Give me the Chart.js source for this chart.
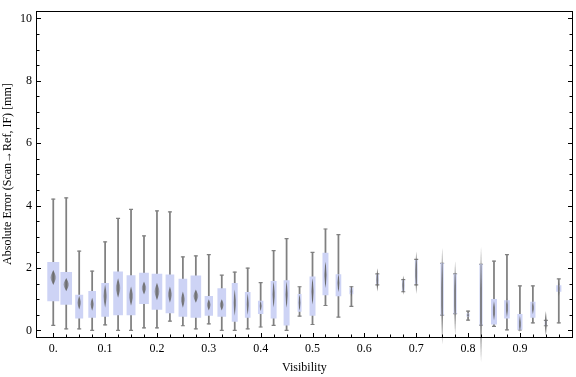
<!DOCTYPE html>
<html><head><meta charset="utf-8">
<script src="https://cdn.jsdelivr.net/npm/chart.js@4/dist/chart.umd.min.js"></script>
<style>html,body{margin:0;padding:0;background:#fff}</style>
</head><body>
<canvas id="c" width="576" height="377"></canvas>
<script>
// ---- data ----
const visibility  = [0,0.025,0.05,0.075,0.1,0.125,0.15,0.175,0.2,0.225,0.25,0.275,0.3,0.325,0.35,0.375,0.4,0.425,0.45,0.475,0.5,0.525,0.55,0.575,0.6,0.625,0.65,0.675,0.7,0.725,0.75,0.775,0.8,0.825,0.85,0.875,0.9,0.925,0.95,0.975];
const whiskerLow  = [0.16,0.05,0.05,0.00,0.18,0.00,0.00,0.08,0.08,0.30,0.15,0.05,0.21,0.00,0.00,0.05,0.11,0.16,0.00,0.46,0.19,0.80,0.43,0.77,null,1.46,null,1.24,1.46,null,0.49,0.54,0.33,0.17,0.13,0.02,0.02,0.24,0.15,0.24];
const quartile1   = [0.95,0.83,0.39,0.42,0.45,0.50,0.50,0.86,0.67,0.56,0.45,0.42,0.48,0.45,0.29,0.42,0.54,0.39,0.17,0.61,0.48,1.14,1.11,1.17,null,1.50,null,1.28,1.50,null,0.49,0.54,0.45,0.17,0.20,0.39,0.03,0.42,0.17,1.25];
const median      = [1.70,1.47,0.89,0.84,1.10,1.36,1.10,1.36,1.25,1.15,0.99,1.10,0.82,0.82,0.89,0.84,0.78,1.15,1.15,0.89,1.25,1.78,1.52,1.25,null,1.62,null,1.45,1.85,null,1.09,1.04,0.49,0.83,0.63,0.73,0.21,0.73,0.23,1.34];
const quartile3   = [2.18,1.86,1.13,1.25,1.51,1.88,1.76,1.84,1.81,1.78,1.65,1.75,1.09,1.34,1.51,1.22,0.94,1.57,1.60,1.16,1.72,2.48,1.79,1.36,null,1.78,null,1.60,2.25,null,2.15,1.81,0.53,2.12,1.00,0.96,0.52,0.91,0.30,1.44];
const whiskerHigh = [4.21,4.25,2.54,1.90,2.84,3.59,3.88,3.03,3.83,3.80,2.36,2.39,2.43,1.77,1.87,2.00,1.53,2.56,2.94,1.40,2.50,3.25,3.07,1.40,null,1.81,null,1.63,2.28,null,2.15,1.81,0.62,2.12,2.22,2.43,1.43,1.43,0.32,1.65];
const notchHalf   = [0.24,0.21,0.22,0.21,0.37,0.31,0.31,0.21,0.28,0.26,0.26,0.21,0.18,0.18,0.42,0.34,0.16,0.42,0.42,0.26,0.42,0.42,0.29,0.18,null,0.37,null,0.31,0.68,null,1.55,1.18,0.06,1.85,0.31,0.31,0.26,0.21,0.39,0.25];
const sampleWeight= [1.00,0.97,0.65,0.62,0.62,0.80,0.73,0.80,0.88,0.71,0.71,0.88,0.68,0.71,0.47,0.44,0.42,0.47,0.47,0.29,0.47,0.47,0.44,0.29,null,0.18,null,0.18,0.18,null,0.22,0.22,0.22,0.22,0.47,0.44,0.40,0.40,0.13,0.40];
const xTickValues = [0,0.1,0.2,0.3,0.4,0.5,0.6,0.7,0.8,0.9];
const xTickLabels = ["0.","0.1","0.2","0.3","0.4","0.5","0.6","0.7","0.8","0.9"];
const yTickValues = [0,2,4,6,8,10];
const yTickLabels = ["0","2","4","6","8","10"];

// ---- styling ----
const MAXW = 11.3;
const BOX = 'rgb(205,211,245)';
const WHISK = 'rgb(128,128,128)';
const FONT = {family:'"Liberation Serif","Times New Roman",serif', size:12};
const bins = visibility.map((v,i)=>i).filter(i=>median[i]!==null);
const boxW = i => Math.max(1.5, sampleWeight[i]*MAXW);

const boxDatasets = bins.map(i => ({
  type:'bar',
  data:[{x:visibility[i], y:[quartile1[i], quartile3[i]]}],
  backgroundColor:BOX, borderWidth:0, barThickness:boxW(i), grouped:false, order:2
}));
const whiskerDataset = {
  type:'bar',
  data: bins.map(i=>({x:visibility[i], y:[whiskerLow[i], whiskerHigh[i]]})),
  backgroundColor:WHISK, borderWidth:0, barThickness:1.1, grouped:false, order:3
};
const capDataset = {
  type:'scatter',
  data: bins.flatMap(i=>[{x:visibility[i],y:whiskerLow[i]},{x:visibility[i],y:whiskerHigh[i]}]),
  pointStyle:'line', pointRadius:2, pointHoverRadius:2, borderColor:WHISK, borderWidth:1.2, order:3
};

const decor = {
  id:'decor',
  afterDatasetsDraw(chart){
    const {ctx, scales:{x,y}} = chart;
    ctx.save();
    bins.forEach(i=>{
      const cx = x.getPixelForValue(visibility[i]);
      const cy = y.getPixelForValue(median[i]);
      const top = y.getPixelForValue(median[i]+notchHalf[i]);
      const bot = y.getPixelForValue(median[i]-notchHalf[i]);
      const hw = Math.max(1.4, boxW(i)*0.3);
      const g = ctx.createLinearGradient(cx-hw,0,cx+hw,0);
      g.addColorStop(0,'rgba(112,112,112,0)');
      g.addColorStop(0.3,'rgba(112,112,112,0.8)');
      g.addColorStop(0.5,'rgba(105,105,105,1)');
      g.addColorStop(0.7,'rgba(112,112,112,0.8)');
      g.addColorStop(1,'rgba(112,112,112,0)');
      ctx.beginPath();
      ctx.moveTo(cx,top); ctx.lineTo(cx+hw,cy); ctx.lineTo(cx,bot); ctx.lineTo(cx-hw,cy); ctx.closePath();
      ctx.fillStyle = g; ctx.fill();
    });
    ctx.restore();
  },
  afterDraw(chart){
    const {ctx, chartArea:a, scales:{x,y}} = chart;
    ctx.save();
    ctx.strokeStyle = '#000'; ctx.lineWidth = 1;
    const L = Math.round(a.left)+0.5, R = Math.round(a.right)-0.5, T = Math.round(a.top)+0.5, B = Math.round(a.bottom)+0.5;
    ctx.strokeRect(L, T, R-L, B-T);
    ctx.beginPath();
    for (let k=0;k<=40;k++){
      const v = k*0.025; if (v > x.max) break;
      const px = Math.round(x.getPixelForValue(v))+0.5;
      const len = (k%4===0)?4.5:3;
      ctx.moveTo(px,B); ctx.lineTo(px,B-len);
    }
    for (let k=0;k<=20;k++){
      const v = k*0.5;
      const py = Math.round(y.getPixelForValue(v))+0.5;
      const len = (k%4===0)?4.5:3;
      ctx.moveTo(L,py); ctx.lineTo(L+len,py);
      ctx.moveTo(R,py); ctx.lineTo(R-len,py);
    }
    ctx.stroke();
    ctx.restore();
  }
};

new Chart(document.getElementById('c'), {
  type:'bar',
  data:{datasets:[...boxDatasets, whiskerDataset, capDataset]},
  options:{
    responsive:false, devicePixelRatio:1, animation:false,
    layout:{padding:{top:4,right:1.5,left:0,bottom:0}},
    plugins:{legend:{display:false}, tooltip:{enabled:false}},
    scales:{
      x:{type:'linear', min:-0.0333, max:1.002, offset:false,
         grid:{display:false, drawTicks:false, offset:false}, border:{display:false},
         afterBuildTicks:s=>{ s.ticks = xTickValues.map(v=>({value:v})); },
         afterFit:s=>{ s.height = 40; },
         ticks:{callback:(v,i)=>xTickLabels[i], font:FONT, color:'#000', padding:5, maxRotation:0, autoSkip:false},
         title:{display:true, text:'Visibility', font:FONT, color:'#000', padding:{top:0,bottom:2}}},
      y:{type:'linear', min:-0.21, max:10.23,
         grid:{display:false, drawTicks:false}, border:{display:false},
         afterBuildTicks:s=>{ s.ticks = yTickValues.map(v=>({value:v})); },
         afterFit:s=>{ s.width = 36; },
         ticks:{callback:(v,i)=>yTickLabels[i], font:FONT, color:'#000', padding:4, autoSkip:false},
         title:{display:true, text:'Absolute Error (Scan\u2192Ref, IF) [mm]', font:FONT, color:'#000', padding:{top:1,bottom:0}}}
    }
  },
  plugins:[decor]
});
</script>
</body></html>
